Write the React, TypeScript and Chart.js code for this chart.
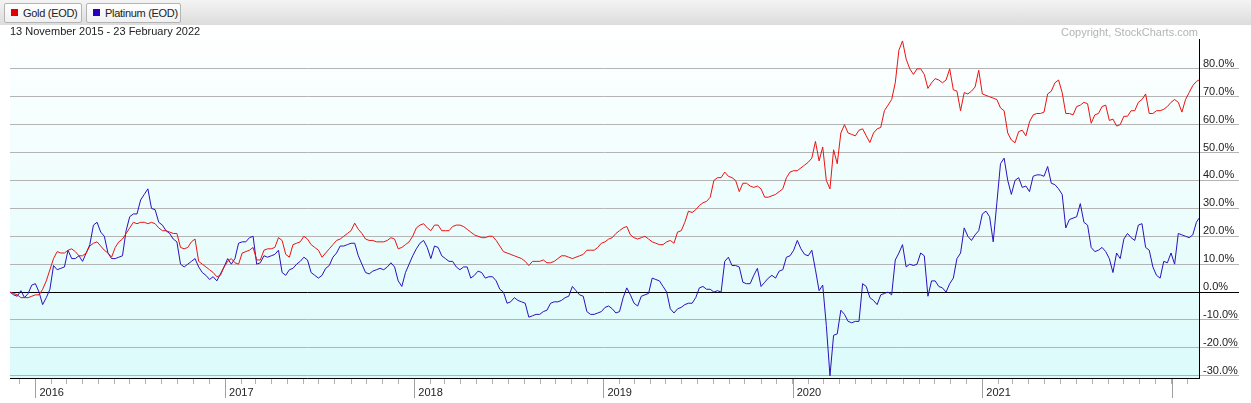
import { useEffect, useRef } from 'react';
import { Chart, registerables } from 'chart.js';

Chart.register(...registerables);

// sampling: weekly from the first day, last point on the last day
const firstDay = '2015-11-13';
const lastDay = '2022-02-23';
const stepDays = 7;

// % change since 13 Nov 2015
const gold = [
  0, -0.5, -1, -2, -2, -2, -1.5, -1, -1, 1,
  4, 8, 12, 14.5, 14, 14, 15, 15.5, 14.5, 13,
  13, 14, 16.5, 17.5, 18, 16.5, 15, 14, 12.5, 16,
  18, 19, 21, 23, 25, 24.5, 25, 25, 24.5, 25,
  24.5, 23, 22, 22, 21.5, 21, 21, 16, 15.5, 16,
  18, 19, 11, 10, 9, 8, 7, 5.5, 6, 9,
  11, 12, 10.5, 10, 14, 14.5, 15, 16, 11.5, 11.5,
  15, 15.5, 15.5, 16, 19.5, 18.5, 13.5, 12.5, 17, 17.5,
  18, 20, 19, 17, 16, 15, 12.5, 14, 15.5, 17,
  18.5, 19, 20, 21, 22, 24.7, 22.5, 21, 19, 18.5,
  18.5, 18, 18, 18, 18.5, 19.5, 19, 15.5, 16, 17,
  18, 20, 23, 24, 24.5, 23, 22, 24, 24, 22,
  22, 22, 23.5, 24, 24, 23.5, 22.5, 21.5, 20.5, 20,
  19.5, 19.5, 20, 20, 18.5, 16.5, 14.5, 14, 13.5, 13,
  12.5, 12, 11, 9.5, 11, 11, 11, 11.5, 10.5, 10.5,
  11, 12, 13, 13, 12.5, 12, 12.5, 13, 13.5, 15,
  15, 15, 16, 17.5, 18, 19, 19.5, 21, 22, 23,
  23.5, 20.5, 19.5, 19, 19.5, 20, 19, 18, 17.5, 17,
  17, 18, 18.5, 17.5, 21.5, 22, 25, 29, 28.5, 29.5,
  31, 32, 32.5, 34, 40, 41, 41, 43, 41.5, 41,
  40, 36, 39, 39, 38, 37.5, 38, 37, 34, 34,
  34.5, 35, 36, 37, 41, 43, 43.5, 43.5, 44.5, 45.5,
  46.5, 48, 54, 47, 52, 40, 37, 51, 46, 57,
  60, 57, 56.5, 56, 58, 58.5, 56, 53.6, 57, 58.5,
  59, 65, 67, 69, 75, 86.7, 90, 83.5, 80, 78,
  80, 80, 78, 73, 75, 76.5, 76, 75, 76, 80,
  72.5, 72, 65, 71.5, 71, 72, 73.5, 79.5, 71, 70.5,
  70, 69.5, 69, 66, 65, 57, 54.5, 53.5, 57.5, 58,
  56, 61, 63.5, 64, 64, 64.5, 71, 72, 75, 76,
  71.5, 64, 64, 63.5, 66.5, 67, 68, 67.5, 60.5, 63.5,
  64, 66.5, 67, 61.5, 62, 59.5, 60, 63, 63, 65,
  65, 68, 69, 71, 64, 64, 65, 65, 65.5, 66.5,
  68, 69, 68, 64.5, 69, 71.5,
  74, 75.5, 76,
];

const platinum = [
  0, -1, -1.5, 0.5, -2, -0.5, 2.5, 3, 0, -4.5,
  -2, 1, 9.5, 8, 8.5, 9, 15, 12, 12, 13,
  11, 14, 17, 24, 25, 21.5, 20, 14, 12, 12,
  12.5, 13, 22, 27, 28, 28, 33, 35, 37, 30,
  29.5, 25, 24, 22, 21, 19, 18, 10, 9, 10,
  11, 12, 9, 7, 6, 4.5, 5.5, 4, 6.5, 9,
  12, 10, 12, 17.5, 18, 18, 19.5, 20, 10, 10.5,
  13, 12.5, 13, 13.5, 15, 7, 6, 8, 8.5, 10,
  11, 12.5, 11.5, 7, 6, 5, 6, 8.5, 9.5, 12.5,
  14, 16.5, 16.5, 17, 17.5, 17.5, 13, 10, 7, 6.5,
  7.5, 8, 8.5, 8, 9, 10.5, 9, 4, 2, 7,
  10, 13, 15.5, 17.5, 18.5, 16, 12, 16.5, 16, 13,
  12, 11, 11, 9, 8, 9, 9, 5, 6, 7.5,
  7, 5, 5.5, 5.5, 4, 1, 0, -4, -3.5, -2,
  -3, -3.5, -4, -9, -8.5, -8, -8, -7, -6.5, -4,
  -3.5, -3.5, -3, -2, -1.5, 2, 0.5, -1, -1.5, -7,
  -8, -8, -7.5, -7, -5.5, -5, -6, -7.5, -7, -2,
  1.5, -1, -4, -5, -1.5, -1, -0.5, 5, 4.5, 4,
  2, 0, -6, -7.5, -6, -5.5, -4.5, -4, -4, -2,
  1.5, 2, 1, 1, 0, 0.5, 0, 11, 12.5, 9.5,
  9.5, 9, 3.5, 3, 3, 6, 8.5, 2, 3.5, 5,
  6, 5, 7.5, 8, 12.5, 13, 15, 18.5, 15.5, 13.5,
  13, 15, 8, 0.5, 2.5, -12, -30, -15.5, -15, -6.5,
  -8, -10.5, -11, -10.5, -10.5, 3, 2, -2, -3, -4.5,
  -1, -0.5, 0, -1, 11.5, 14, 17, 9, 10, 9.5,
  10, 14, 13, -1.5, 4, 4, 2, 1.5, 0, 3,
  5, 12, 14, 23, 20, 18.5, 20.5, 22, 28, 29,
  27, 18, 32, 46, 48, 40, 35, 40, 41, 37.5,
  38, 36, 41.5, 42, 42, 41.5, 45, 39, 38.5, 37,
  35, 23, 26, 26.5, 27, 31.7, 25, 24, 16, 14.5,
  15, 16, 14.5, 12, 7, 14, 12, 19, 21, 19.5,
  18.5, 24, 24.5, 16, 15, 9, 6, 5, 11, 10.5,
  14, 10, 21, 20.5, 20, 19.5,
  20.5, 25, 26.5,
];

const yearLabels = ['2016', '2017', '2018', '2019', '2020', '2021'];
const yTicks = [-30, -20, -10, 0, 10, 20, 30, 40, 50, 60, 70, 80];
const yMin = -30.8;
const yMax = 90.7;

const DAY = 86400000;
const toMs = (s: string) => {
  const [y, m, d] = s.split('-').map(Number);
  return Date.UTC(y, m - 1, d);
};

const startMs = toMs(firstDay);
const endMs = toMs(lastDay);
const xValues = gold.map((_, i) => (i === gold.length - 1 ? endMs : startMs + i * stepDays * DAY));

const monthTicks: number[] = [];
for (let y = 2015; y <= 2022; y++) {
  for (let m = 0; m < 12; m++) {
    const t = Date.UTC(y, m, 1);
    if (t > startMs && t < endMs) monthTicks.push(t);
  }
}

const FONT = '"Liberation Sans", Arial, sans-serif';

const backgroundPlugin = {
  id: 'bg',
  beforeDraw(chart: Chart) {
    const { ctx, chartArea } = chart;
    const g = ctx.createLinearGradient(0, 0, 0, chartArea.bottom);
    g.addColorStop(0, '#ffffff');
    g.addColorStop(1, '#dcfbfb');
    ctx.save();
    ctx.fillStyle = g;
    ctx.fillRect(chartArea.left, 0, chartArea.right - chartArea.left, chartArea.bottom);
    ctx.restore();
  },
};

const yearTickPlugin = {
  id: 'yearTicks',
  afterDraw(chart: Chart) {
    const { ctx, chartArea } = chart;
    const xs = chart.scales.x;
    ctx.save();
    ctx.strokeStyle = '#a0a0a0';
    ctx.lineWidth = 1;
    for (let y = 2016; y <= 2022; y++) {
      const px = Math.round(xs.getPixelForValue(Date.UTC(y, 0, 1))) + 0.5;
      ctx.beginPath();
      ctx.moveTo(px, chartArea.bottom + 1);
      ctx.lineTo(px, chartArea.bottom + 20);
      ctx.stroke();
    }
    ctx.restore();
  },
};

function GoldPlatinumChart() {
  const canvasRef = useRef<HTMLCanvasElement>(null);
  const chartRef = useRef<Chart | null>(null);

  useEffect(() => {
    if (!canvasRef.current) return;
    if (chartRef.current) chartRef.current.destroy();
    const ctx = canvasRef.current.getContext('2d');
    if (!ctx) return;

    chartRef.current = new Chart(ctx, {
      type: 'line',
      data: {
        datasets: [
          {
            label: 'Gold (EOD)',
            data: gold.map((v, i) => ({ x: xValues[i], y: v })),
            borderColor: '#ee1111',
            borderWidth: 1,
            pointRadius: 0,
            tension: 0,
          },
          {
            label: 'Platinum (EOD)',
            data: platinum.map((v, i) => ({ x: xValues[i], y: v })),
            borderColor: '#2c10c0',
            borderWidth: 1,
            pointRadius: 0,
            tension: 0,
          },
        ],
      },
      options: {
        responsive: false,
        animation: false,
        layout: { padding: { left: 10, top: 13, right: 0, bottom: 0 } },
        plugins: {
          legend: { display: false },
          tooltip: { enabled: false },
        },
        scales: {
          x: {
            type: 'linear',
            min: startMs,
            max: endMs,
            afterBuildTicks: (scale: any) => {
              scale.ticks = monthTicks.map((v) => ({ value: v }));
            },
            afterFit: (scale: any) => {
              scale.height = 25;
            },
            grid: {
              drawOnChartArea: false,
              drawTicks: true,
              tickLength: 6,
              color: '#b0b0b0',
            },
            border: { display: true, color: '#000000', width: 1 },
            ticks: {
              autoSkip: false,
              maxRotation: 0,
              align: 'start',
              labelOffset: 4,
              padding: 2,
              color: '#222222',
              font: { family: FONT, size: 11 },
              callback: (value: any) => {
                const d = new Date(Number(value));
                const yr = String(d.getUTCFullYear());
                return d.getUTCMonth() === 0 && yearLabels.includes(yr) ? yr : '';
              },
            },
          },
          y: {
            position: 'right',
            min: yMin,
            max: yMax,
            afterBuildTicks: (scale: any) => {
              scale.ticks = yTicks.map((v) => ({ value: v }));
            },
            afterFit: (scale: any) => {
              scale.width = 52;
            },
            grid: {
              drawOnChartArea: true,
              drawTicks: true,
              tickLength: 40,
              color: (c: any) => (c.tick && c.tick.value === 0 ? '#000000' : '#b4b4b4'),
            },
            border: { display: true, color: '#000000', width: 1 },
            ticks: {
              padding: -36,
              labelOffset: -5,
              color: '#222222',
              font: { family: FONT, size: 11 },
              callback: (value: any) => `${Number(value).toFixed(1)}%`,
            },
          },
        },
      },
      plugins: [backgroundPlugin, yearTickPlugin],
    });

    return () => {
      if (chartRef.current) {
        chartRef.current.destroy();
        chartRef.current = null;
      }
    };
  }, []);

  return <canvas ref={canvasRef} width={1251} height={377} style={{ position: 'absolute', left: 0, top: 26 }} />;
}

function LegendButton({ color, text, left, width }: { color: string; text: string; left: number; width: number }) {
  return (
    <div
      style={{
        position: 'absolute',
        left,
        top: 3,
        width,
        height: 20,
        boxSizing: 'border-box',
        border: '1px solid #b4b4b4',
        borderRadius: 2,
        background: 'linear-gradient(#ffffff, #f0f0f0)',
        fontSize: 11,
        color: '#222',
        lineHeight: '19px',
        whiteSpace: 'nowrap',
        letterSpacing: '-0.3px',
      }}
    >
      <span
        style={{ position: 'absolute', left: 6, top: 5, width: 7, height: 7, background: color }}
      />
      <span style={{ position: 'absolute', left: 18, top: 0 }}>{text}</span>
    </div>
  );
}

export default function App() {
  return (
    <div
      style={{
        position: 'fixed',
        left: 0,
        top: 0,
        width: 1251,
        height: 403,
        background: '#fff',
        fontFamily: FONT,
        overflow: 'hidden',
      }}
    >
      <div
        style={{
          position: 'absolute',
          left: 0,
          top: 0,
          width: 1251,
          height: 25,
          background: 'linear-gradient(#f4f4f4, #dcdcdc)',
        }}
      >
        <LegendButton color="#e00000" text="Gold (EOD)" left={4} width={78} />
        <LegendButton color="#2a00c0" text="Platinum (EOD)" left={86} width={95} />
      </div>
      <GoldPlatinumChart />
      <div style={{ position: 'absolute', left: 10, top: 25, fontSize: 11, color: '#222', zIndex: 2 }}>
        13 November 2015 - 23 February 2022
      </div>
      <div
        style={{
          position: 'absolute',
          right: 1251 - 1198,
          top: 26,
          fontSize: 11,
          color: '#b4b4b4',
          zIndex: 2,
        }}
      >
        Copyright, StockCharts.com
      </div>
    </div>
  );
}
